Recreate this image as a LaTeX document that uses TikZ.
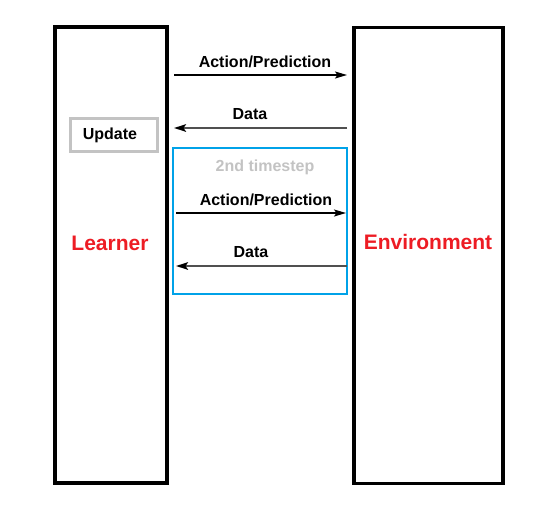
\documentclass[tikz,border=0pt]{standalone}
\usepackage{fontspec}
\setmainfont{Liberation Sans}
\usetikzlibrary{arrows.meta}
\definecolor{lred}{HTML}{ED1C24}
\definecolor{lblue}{HTML}{00A2E8}
\definecolor{lgray}{HTML}{C3C3C3}
\definecolor{dgray}{HTML}{505050}
\begin{document}
\begin{tikzpicture}[x=1pt,y=-1pt,
  bigbox/.style={draw=black,line width=3.6pt,inner sep=0pt,minimum width=#1,minimum height=456},
  lbl/.style={font=\bfseries\fontsize{16}{19}\selectfont,inner sep=0pt},
  biglbl/.style={font=\bfseries\fontsize{21}{25}\selectfont,text=lred,inner sep=0pt},
  actarrow/.style={draw=black,line width=1.2pt,-{Stealth[length=12pt,width=7pt,inset=2.5pt]}},
  dataarrow/.style={draw=dgray,line width=2pt,-{Stealth[length=12pt,width=7.5pt,inset=2.5pt,fill=black,color=black]}}]
\useasboundingbox (0,0) rectangle (541,507);
\node[bigbox=112] (learner) at (111,255) {};
\node[bigbox=149] (env) at (428.5,255.5) {};
\node[biglbl] (learnerlbl) at (110,243) {Learner};
\node[biglbl] (envlbl) at (428,242) {Environment};
\node[draw=lgray,line width=2.8pt,minimum width=87,minimum height=33,inner sep=0pt] (update) at (114,135) {};
\node[lbl] (updatelbl) at (110,135.5) {Update};
\node[draw=lblue,line width=2.2pt,minimum width=174,minimum height=146,inner sep=0pt] (step2) at (260,221) {};
\node[lbl,text=lgray] (steplbl) at (265,167) {2nd timestep};
% first exchange
\coordinate (a1s) at (174,75);
\coordinate (a1e) at (347,75);
\coordinate (d1s) at (347,128);
\coordinate (d1e) at (174,128);
\draw[actarrow] (a1s) -- (a1e);
\draw[dataarrow] (d1s) -- (d1e);
\node[lbl] (a1lbl) at (265,62) {Action/Prediction};
\node[lbl] (d1lbl) at (250,114) {Data};
% second exchange
\coordinate (a2s) at (176,213);
\coordinate (a2e) at (346,213);
\coordinate (d2s) at (347,266);
\coordinate (d2e) at (176,266);
\draw[actarrow] (a2s) -- (a2e);
\draw[dataarrow] (d2s) -- (d2e);
\node[lbl] (a2lbl) at (266,200) {Action/Prediction};
\node[lbl] (d2lbl) at (251,252) {Data};
\end{tikzpicture}
\end{document}
